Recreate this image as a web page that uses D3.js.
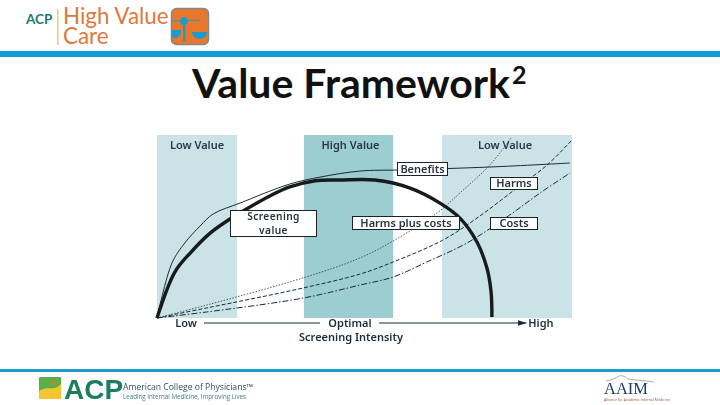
<!DOCTYPE html>
<html>
<head>
<meta charset="utf-8">
<script src="https://cdn.jsdelivr.net/npm/d3@7"></script>
<style>
  html, body { margin: 0; padding: 0; background: #fff; }
  svg { display: block; }
</style>
</head>
<body>
<div id="chart"></div>
<script>
// values, x = screening intensity 0-100, y = value 0-100
const bandNames = ['Low Value', 'High Value', 'Low Value'];
const bandStart = [0, 35.4, 68.7];
const bandEnd = [19.3, 56.9, 100];

const benefits = [[0,0],[3.6,30],[6.7,41],[10.4,50.3],[13.5,56.8],[20,62.8],[32,73.2],[39.3,77],[48.9,80.3],[58.6,80.9],[80.2,82.5],[99.5,84.7]];
const harmsPlusCosts = [[0,0],[4.3,25.1],[8,35.5],[12.8,46.4],[17.6,54.1],[22.4,60.7],[27.2,66.7],[32,71.6],[38.1,75],[44.1,75.4],[52.5,75.4],[61,71],[68.2,62.8],[73,54.6],[77.1,41.5],[79.5,27.3],[80.5,14.2],[80.7,0.5]];
const sumCurve = [[0,0],[12,7.1],[35.2,21.9],[48.9,32.8],[56.9,42.1],[67.5,57.4],[73,68.3],[80.2,83.6],[85.5,98.9]];
const harms = [[0,0],[12,5.5],[35.2,16.4],[48.9,24],[56.9,30.6],[68.9,42.6],[77.1,54.6],[86.7,71],[94,83.6],[100,97.3]];
const costs = [[0,0],[12,3.3],[35.2,10.9],[48.9,18],[56.9,22.4],[65,30.6],[74.7,41],[85,56.3],[92.3,68.3],[99.5,79.2]];

const axisLabels = ['Low', 'Optimal', 'High'];
const axisLabelAt = [7, 46.5, 92.5];

const width = 720, height = 405;
const svg = d3.select('#chart').append('svg')
  .attr('width', width)
  .attr('height', height);

const defs = svg.append('defs');
defs.append('filter').attr('id', 'soft')
  .append('feGaussianBlur').attr('stdDeviation', 0.35);
defs.append('marker').attr('id', 'arrow')
  .attr('viewBox', '0 0 10 6').attr('refX', 9).attr('refY', 3)
  .attr('markerWidth', 9).attr('markerHeight', 5.4)
  .attr('markerUnits', 'userSpaceOnUse').attr('orient', 'auto')
  .append('path').attr('d', 'M0,0L10,3L0,6Z').attr('fill', '#1b2a36');

// header
const head = svg.append('g');
head.append('rect').attr('x', 0).attr('y', 51).attr('width', width).attr('height', 6).attr('fill', '#0f9ed5');
head.append('text').attr('x', 26).attr('y', 23.5).text('ACP')
  .attr('font-family', 'Lato').attr('font-weight', 700).attr('font-size', 13.5).attr('fill', '#1c7a72');
head.append('rect').attr('x', 57).attr('y', 9).attr('width', 1.5).attr('height', 36).attr('fill', '#eccb6c');
head.append('text').attr('x', 63).attr('y', 24).text('High Value')
  .attr('font-family', 'Lato').attr('font-size', 22.4).attr('fill', '#dc7a3c');
head.append('text').attr('x', 63).attr('y', 44).text('Care')
  .attr('font-family', 'Lato').attr('font-size', 22.4).attr('fill', '#dc7a3c');
const icon = head.append('g');
icon.append('rect').attr('x', 171.5).attr('y', 8.5).attr('width', 37).attr('height', 36).attr('rx', 5)
  .attr('fill', '#e9782c').attr('stroke', '#7f8a8c').attr('stroke-width', 1.5);
icon.append('circle').attr('cx', 184).attr('cy', 21).attr('r', 4).attr('fill', '#1c9ccb');
icon.append('rect').attr('x', 183).attr('y', 21).attr('width', 2.5).attr('height', 20).attr('fill', '#1c9ccb');
icon.append('path').attr('d', 'M172,30h9a6,7 0 0 1 -9,7z').attr('fill', '#1c9ccb');
icon.append('path').attr('d', 'M192,32h15a7.5,7 0 0 1 -15,0z').attr('fill', '#1c9ccb');
icon.append('path').attr('d', 'M172,21L200,20').attr('stroke', '#1c9ccb').attr('stroke-width', 1.2);

svg.append('text').attr('x', 192).attr('y', 98).text('Value Framework')
  .attr('font-family', 'Lato').attr('font-weight', 700).attr('font-size', 41).attr('fill', '#111');
svg.append('text').attr('x', 512).attr('y', 84).text('2')
  .attr('font-family', 'Lato').attr('font-weight', 700).attr('font-size', 25).attr('fill', '#111');

// chart
const x = d3.scaleLinear().domain([0, 100]).range([157, 572]);
const y = d3.scaleLinear().domain([0, 100]).range([318, 135]);
const g = svg.append('g').attr('filter', 'url(#soft)');

const bandColors = ['#c9e3e6', '#9ccdd1', '#c9e3e6'];
const labelFont = 'Noto Sans';
const labelSize = 11;
bandNames.forEach((name, i) => {
  g.append('rect')
    .attr('x', x(bandStart[i]))
    .attr('y', y(100))
    .attr('width', x(bandEnd[i]) - x(bandStart[i]))
    .attr('height', y(0) - y(100))
    .attr('fill', bandColors[i]);
  g.append('text')
    .attr('x', (x(bandStart[i]) + x(bandEnd[i])) / 2 + (i === 0 ? 0 : i === 1 ? 2 : -2))
    .attr('y', 149)
    .attr('text-anchor', 'middle')
    .text(name)
    .attr('font-family', labelFont).attr('font-weight', 600).attr('font-size', labelSize).attr('fill', '#26384a');
});

const line = d3.line().x(d => x(d[0])).y(d => y(d[1])).curve(d3.curveCatmullRom.alpha(0.5));

const curves = [
  { pts: benefits, w: 1, dash: null, color: '#1b2a36' },
  { pts: sumCurve, w: 0.8, dash: '1.5 1.5', color: '#26343f' },
  { pts: harms, w: 1, dash: '4 2', color: '#1b2a36' },
  { pts: costs, w: 1, dash: '6 2 1.5 2', color: '#1b2a36' },
  { pts: harmsPlusCosts, w: 3.4, dash: null, color: '#171a1c' }
];
curves.forEach(c => {
  g.append('path')
    .attr('d', line(c.pts))
    .attr('fill', 'none')
    .attr('stroke', c.color)
    .attr('stroke-width', c.w)
    .attr('stroke-dasharray', c.dash);
});

// label boxes
function box(x0, y0, w, h, lines, sw) {
  g.append('rect').attr('x', x0).attr('y', y0).attr('width', w).attr('height', h)
    .attr('fill', '#fff').attr('stroke', '#1b2328').attr('stroke-width', sw);
  lines.forEach((t, i) => {
    g.append('text')
      .attr('x', x0 + w / 2)
      .attr('y', y0 + (lines.length > 1 ? 9.5 + i * 14 : h / 2 + 3.8))
      .attr('text-anchor', 'middle')
      .text(t)
      .attr('font-family', labelFont).attr('font-weight', 600)
      .attr('font-size', lines.length > 1 ? 10.2 : labelSize)
      .attr('letter-spacing', lines.length > 1 ? 0.4 : 0)
      .attr('fill', '#26343f');
  });
}
box(230.5, 210.5, 86, 26, ['Screening', 'value'], 1);
box(397.5, 162.5, 50, 13, ['Benefits'], 1);
box(490.5, 177.5, 47, 12, ['Harms'], 1);
box(352.5, 216.5, 107, 13, ['Harms plus costs'], 1);
box(490.5, 217.5, 47, 12, ['Costs'], 1);

// screening intensity axis
axisLabels.forEach((t, i) => {
  g.append('text')
    .attr('x', x(axisLabelAt[i]))
    .attr('y', 326.5)
    .attr('text-anchor', 'middle')
    .text(t)
    .attr('font-family', labelFont).attr('font-weight', 600).attr('font-size', labelSize).attr('fill', '#1e2d3c');
});
g.append('text').attr('x', 351).attr('y', 340.5).attr('text-anchor', 'middle').text('Screening Intensity')
  .attr('font-family', labelFont).attr('font-weight', 600).attr('font-size', labelSize).attr('fill', '#1e2d3c');
g.append('line').attr('x1', 204).attr('x2', 320).attr('y1', 323).attr('y2', 323).attr('stroke', '#1b2a36');
g.append('line').attr('x1', 379).attr('x2', 526).attr('y1', 323).attr('y2', 323).attr('stroke', '#1b2a36')
  .attr('marker-end', 'url(#arrow)');

// footer
const foot = svg.append('g').attr('filter', 'url(#soft)');
foot.append('rect').attr('x', 0).attr('y', 369).attr('width', width).attr('height', 3).attr('fill', '#1f9dc9');
foot.append('rect').attr('x', 39).attr('y', 377).attr('width', 22).attr('height', 22).attr('rx', 1).attr('fill', '#5cae46');
foot.append('path').attr('d', 'M39,391C48,385 54,392 61,384V399H39Z').attr('fill', '#f2c530');
foot.append('circle').attr('cx', 54).attr('cy', 383).attr('r', 2).attr('fill', '#e07b2c');
foot.append('text').attr('x', 64).attr('y', 399).text('ACP')
  .attr('font-family', 'Liberation Sans').attr('font-weight', 700).attr('font-size', 28).attr('fill', '#1d7d5e');
foot.append('text').attr('x', 123).attr('y', 390).text('American College of Physicians™')
  .attr('font-family', 'Open Sans').attr('font-size', 8.6).attr('fill', '#33505a');
foot.append('text').attr('x', 123).attr('y', 399).text('Leading Internal Medicine, Improving Lives')
  .attr('font-family', 'Open Sans').attr('font-size', 6.2).attr('fill', '#3b7f76');
foot.append('text').attr('x', 604).attr('y', 393.5).text('AAIM')
  .attr('font-family', 'Liberation Serif').attr('font-size', 16.5).attr('fill', '#1e3c66');
foot.append('path').attr('d', 'M606,381C612,380 616,378 619,376C623,375 626,377 628,379C634,380 648,381 654,382')
  .attr('fill', 'none').attr('stroke', '#7d8a94').attr('stroke-width', 0.7);
foot.append('text').attr('x', 604).attr('y', 401).text('Alliance for Academic Internal Medicine')
  .attr('font-family', 'Open Sans').attr('font-size', 3.6).attr('fill', '#a0522d');
</script>
</body>
</html>
